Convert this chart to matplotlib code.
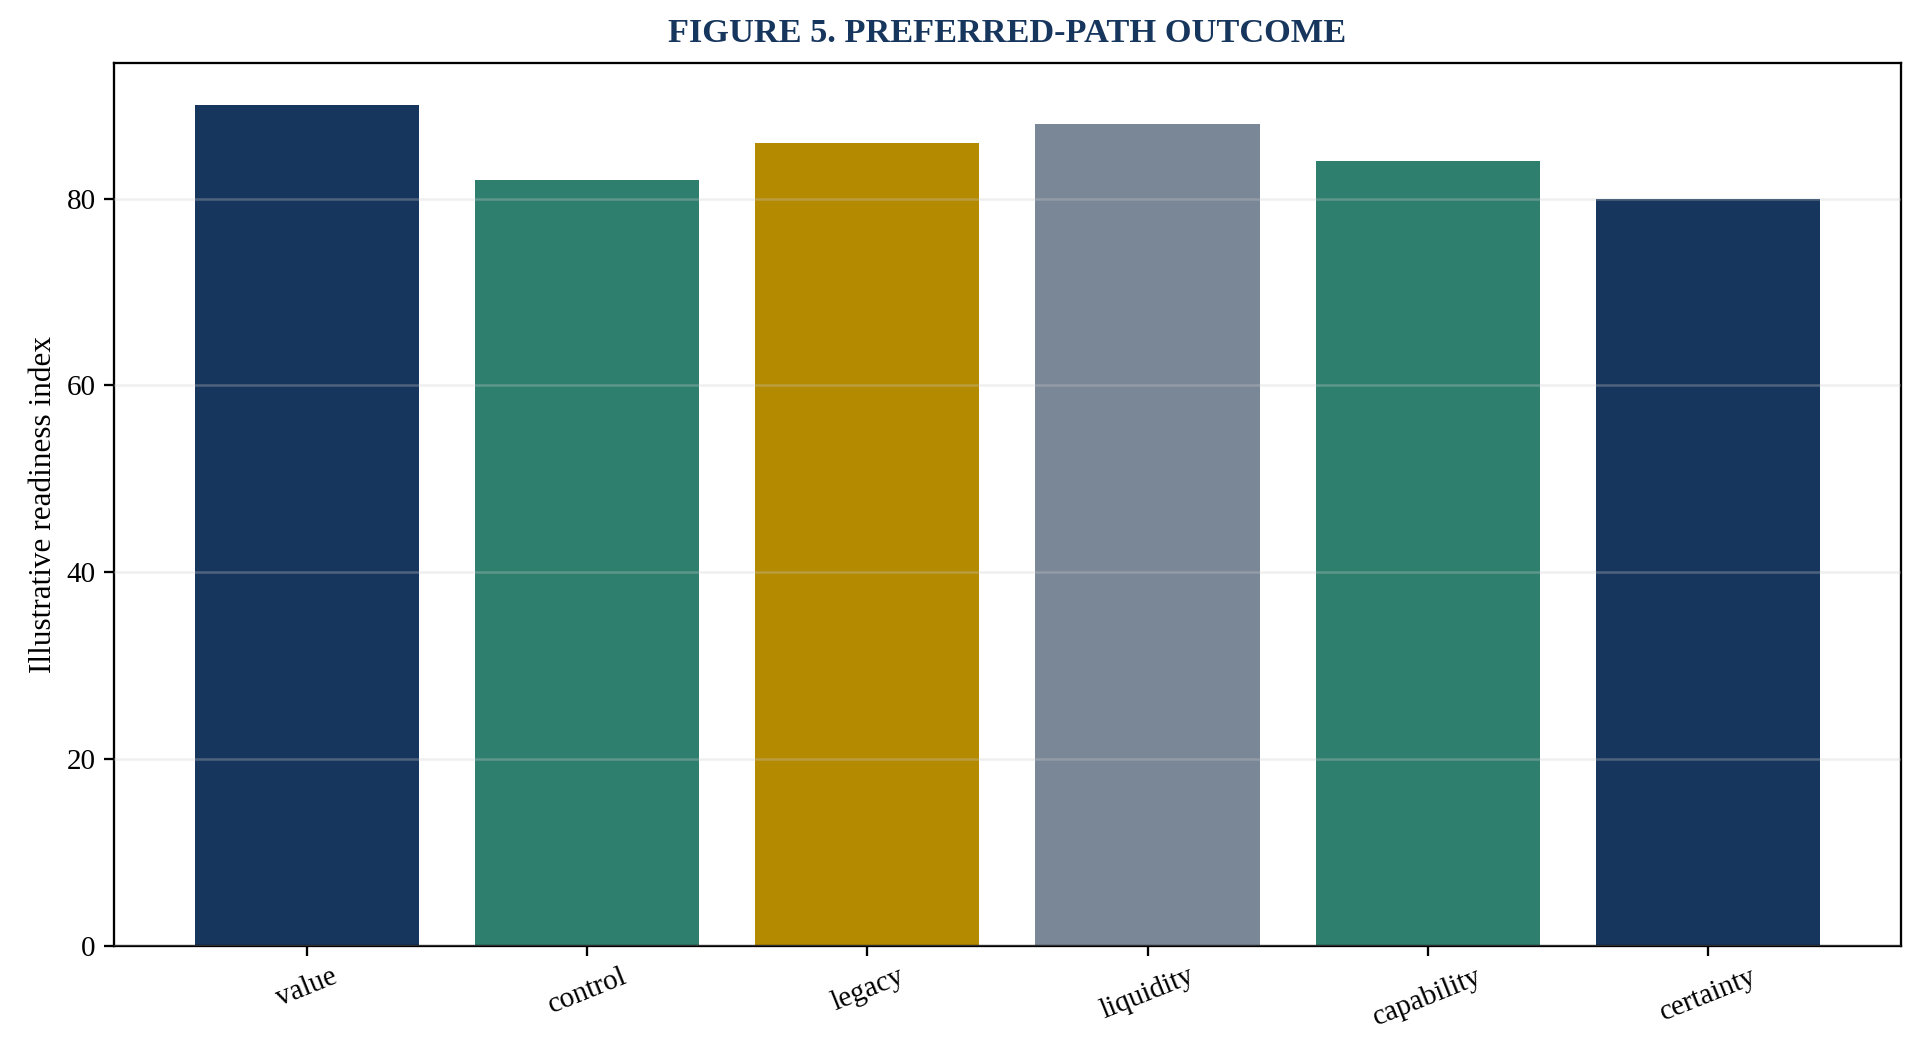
import matplotlib
matplotlib.use("Agg")
import matplotlib.pyplot as plt

# readiness by factor
factors = ['value', 'control', 'legacy', 'liquidity', 'capability', 'certainty']
scores = [90, 82, 86, 88, 84, 80]
bar_colors = ['#17365d', '#2e7f6e', '#b38a00', '#7a8797', '#2e7f6e', '#17365d']

plt.rcParams['font.family'] = ['Liberation Serif', 'DejaVu Serif']
plt.rcParams['font.size'] = 14
plt.rcParams['axes.linewidth'] = 1.1

fig, ax = plt.subplots(figsize=(12.83, 7.02), dpi=150)
fig.subplots_adjust(left=0.059, right=0.988, top=0.940, bottom=0.102)

ax.bar(factors, scores, color=bar_colors, width=0.8)
ax.grid(axis='y', color='#cccccc', alpha=0.3, linewidth=1.2)
ax.set_axisbelow(False)
ax.tick_params(length=5, width=1.1)

ax.set_ylabel('Illustrative readiness index', fontsize=15, labelpad=4)
ax.set_title('FIGURE 5. PREFERRED-PATH OUTCOME', fontsize=16.5, fontweight='bold',
             color='#17365d', pad=10)
plt.setp(ax.get_xticklabels(), rotation=22)

fig.savefig('out.png', dpi=150)
